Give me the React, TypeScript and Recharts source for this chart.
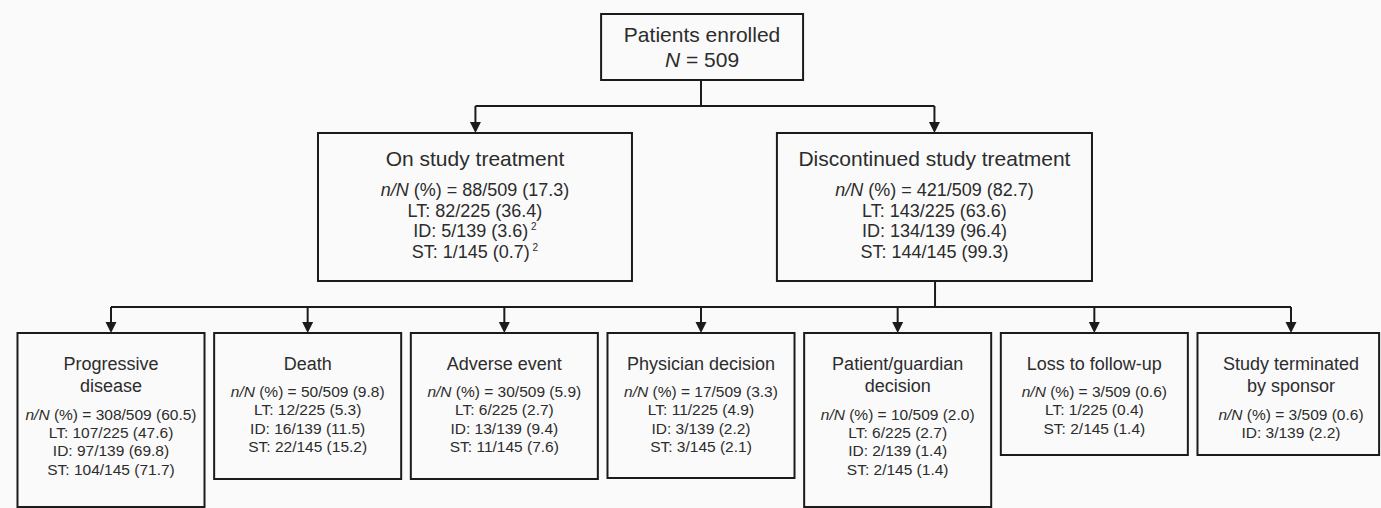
import React from 'react';
import { ScatterChart, Scatter, XAxis, YAxis, ReferenceArea, ReferenceLine } from 'recharts';

// denominators
const totalN = 509;
const cohortNames = ['LT', 'ID', 'ST'];
const cohortN = [225, 139, 145];

// status after enrolment
const statusNames = ['On study treatment', 'Discontinued study treatment'];
const statusN = [88, 421];
const statusPct = [17.3, 82.7];
const statusCohortN = [[82, 5, 1], [143, 134, 144]];
const statusCohortPct = [[36.4, 3.6, 0.7], [63.6, 96.4, 99.3]];
const statusNotes = [[null, '2', '2'], [null, null, null]];

// reasons for discontinuation
const reasonNames = [
  ['Progressive', 'disease'],
  ['Death'],
  ['Adverse event'],
  ['Physician decision'],
  ['Patient/guardian', 'decision'],
  ['Loss to follow-up'],
  ['Study terminated', 'by sponsor'],
];
const reasonN = [308, 50, 30, 17, 10, 3, 3];
const reasonPct = [60.5, 9.8, 5.9, 3.3, 2.0, 0.6, 0.6];
const reasonCohortN = [
  [107, 12, 6, 11, 6, 1, null], // LT
  [97, 16, 13, 3, 2, null, 3], // ID
  [104, 22, 11, 3, 2, 2, null], // ST
];
const reasonCohortPct = [
  [47.6, 5.3, 2.7, 4.9, 2.7, 0.4, null],
  [69.8, 11.5, 9.4, 2.2, 1.4, null, 2.2],
  [71.7, 15.2, 7.6, 2.1, 1.4, 1.4, null],
];

// ---- layout (x in bottom-column units, y in rows of the 508px canvas)
const W = 1381;
const H = 508;
const X_DOMAIN = [-0.5644, 6.4576];
const INK = '#1b1b1b';
const TEXT = '#2c2c2c';
const FONT = '"Liberation Sans", Arial, sans-serif';

const topBox = { x1: 2.492, x2: 3.519, y1: 14, y2: 80 };
const statusBoxes = [
  { x1: 1.0525, x2: 2.649, y1: 133, y2: 281 },
  { x1: 3.386, x2: 4.988, y1: 133, y2: 281 },
];
const statusArrowX = [1.853, 4.187];
const reasonHalf = 0.4755;
const reasonTop = 333;
const reasonBottom = [507, 479, 479, 478, 507, 455, 455];
const reasonRight = [null, null, null, null, null, null, 6.448];
const busTopY = 106;
const busBottomY = 307;
const stemBottomX = 4.19;

type Seg = { t: string; italic?: boolean; sup?: boolean };

const fmt = (v: number) => v.toFixed(1);

const overallRow = (n: number, pct: number): Seg[] => [
  { t: 'n/N', italic: true },
  { t: ` (%) = ${n}/${totalN} (${fmt(pct)})` },
];

const cohortRow = (k: number, n: number, pct: number, note?: string | null): Seg[] => {
  const row: Seg[] = [{ t: `${cohortNames[k]}: ${n}/${cohortN[k]} (${fmt(pct)})` }];
  if (note) row.push({ t: note, sup: true });
  return row;
};

const levelStyle = [
  { titleSize: 21, rowSize: 21, titleFirst: 21, titleStep: 0, rowGap: 25, rowStep: 0 },
  { titleSize: 21, rowSize: 18, titleFirst: 25.5, titleStep: 22, rowGap: 31.5, rowStep: 20.5 },
  { titleSize: 18, rowSize: 15.5, titleFirst: 30.5, titleStep: 22.5, rowGap: 28, rowStep: 18.4 },
];

// text blocks, anchored at the top-centre of each box
const labels: any[] = [];
labels.push({
  x: (topBox.x1 + topBox.x2) / 2,
  y: topBox.y1,
  level: 0,
  titles: ['Patients enrolled'],
  rows: [[{ t: 'N', italic: true }, { t: ` = ${totalN}` }]],
});
statusNames.forEach((name, i) => {
  const b = statusBoxes[i];
  const rows: Seg[][] = [overallRow(statusN[i], statusPct[i])];
  cohortNames.forEach((_, k) => rows.push(cohortRow(k, statusCohortN[i][k], statusCohortPct[i][k], statusNotes[i][k])));
  labels.push({ x: (b.x1 + b.x2) / 2, y: b.y1, level: 1, titles: [name], rows });
});
reasonNames.forEach((name, i) => {
  const rows: Seg[][] = [overallRow(reasonN[i], reasonPct[i])];
  cohortNames.forEach((_, k) => {
    const n = reasonCohortN[k][i];
    const p = reasonCohortPct[k][i];
    if (n != null && p != null) rows.push(cohortRow(k, n, p));
  });
  labels.push({ x: i, y: reasonTop, level: 2, titles: name, rows });
});

const arrowTips = [
  ...statusArrowX.map((x) => ({ x, y: statusBoxes[0].y1 })),
  ...reasonNames.map((_, i) => ({ x: i, y: reasonTop })),
];

const BoxText = (props: any) => {
  const { cx, cy, payload } = props;
  const s = levelStyle[payload.level];
  const titles: string[] = payload.titles;
  const lastTitle = s.titleFirst + (titles.length - 1) * s.titleStep;
  return (
    <g fontFamily={FONT} fill={TEXT} textAnchor="middle">
      {titles.map((t, j) => (
        <text key={'t' + j} x={cx} y={cy + s.titleFirst + j * s.titleStep + 0.355 * s.titleSize} fontSize={s.titleSize}>
          {t}
        </text>
      ))}
      {payload.rows.map((row: Seg[], j: number) => (
        <text key={'r' + j} x={cx} y={cy + lastTitle + s.rowGap + j * s.rowStep + 0.355 * s.rowSize} fontSize={s.rowSize}>
          {row.map((seg, m) =>
            seg.sup ? (
              <tspan key={m} fontSize={10} dy={-7}>{'\u00a0' + seg.t}</tspan>
            ) : (
              <tspan key={m} fontStyle={seg.italic ? 'italic' : 'normal'}>{seg.t}</tspan>
            ),
          )}
        </text>
      ))}
    </g>
  );
};

const Arrow = (props: any) => {
  const { cx, cy } = props;
  return <path d={`M${cx},${cy} L${cx - 5.5},${cy - 11} L${cx + 5.5},${cy - 11} Z`} fill={INK} />;
};

const boxProps = { fill: 'none', stroke: INK, strokeWidth: 2, fillOpacity: 0, ifOverflow: 'visible' as const };
const lineProps = { stroke: INK, strokeWidth: 2, ifOverflow: 'visible' as const };

export default function App() {
  return (
    <div style={{ position: 'absolute', left: 0, top: 0, width: W, height: H, background: '#fafafa' }}>
      <ScatterChart width={W} height={H} margin={{ top: 0, right: 0, bottom: 0, left: 0 }}>
        <XAxis type="number" dataKey="x" domain={X_DOMAIN} allowDataOverflow hide />
        <YAxis type="number" dataKey="y" domain={[0, H]} reversed allowDataOverflow hide />

        <ReferenceArea {...boxProps} x1={topBox.x1} x2={topBox.x2} y1={topBox.y1} y2={topBox.y2} />
        {statusBoxes.map((b, i) => (
          <ReferenceArea key={'s' + i} {...boxProps} x1={b.x1} x2={b.x2} y1={b.y1} y2={b.y2} />
        ))}
        {reasonNames.map((_, i) => (
          <ReferenceArea
            key={'r' + i}
            {...boxProps}
            x1={i - reasonHalf}
            x2={reasonRight[i] ?? i + reasonHalf}
            y1={reasonTop}
            y2={reasonBottom[i]}
          />
        ))}

        {/* connectors */}
        <ReferenceLine {...lineProps} segment={[{ x: 3, y: topBox.y2 }, { x: 3, y: busTopY }]} />
        <ReferenceLine {...lineProps} segment={[{ x: statusArrowX[0], y: busTopY }, { x: statusArrowX[1], y: busTopY }]} />
        {statusArrowX.map((x, i) => (
          <ReferenceLine key={'sa' + i} {...lineProps} segment={[{ x, y: busTopY }, { x, y: statusBoxes[0].y1 - 6 }]} />
        ))}
        <ReferenceLine {...lineProps} segment={[{ x: stemBottomX, y: statusBoxes[1].y2 }, { x: stemBottomX, y: busBottomY }]} />
        <ReferenceLine {...lineProps} segment={[{ x: 0, y: busBottomY }, { x: reasonNames.length - 1, y: busBottomY }]} />
        {reasonNames.map((_, i) => (
          <ReferenceLine key={'ra' + i} {...lineProps} segment={[{ x: i, y: busBottomY }, { x: i, y: reasonTop - 6 }]} />
        ))}

        <Scatter data={arrowTips} shape={<Arrow />} isAnimationActive={false} />
        <Scatter data={labels} shape={<BoxText />} isAnimationActive={false} />
      </ScatterChart>
    </div>
  );
}
